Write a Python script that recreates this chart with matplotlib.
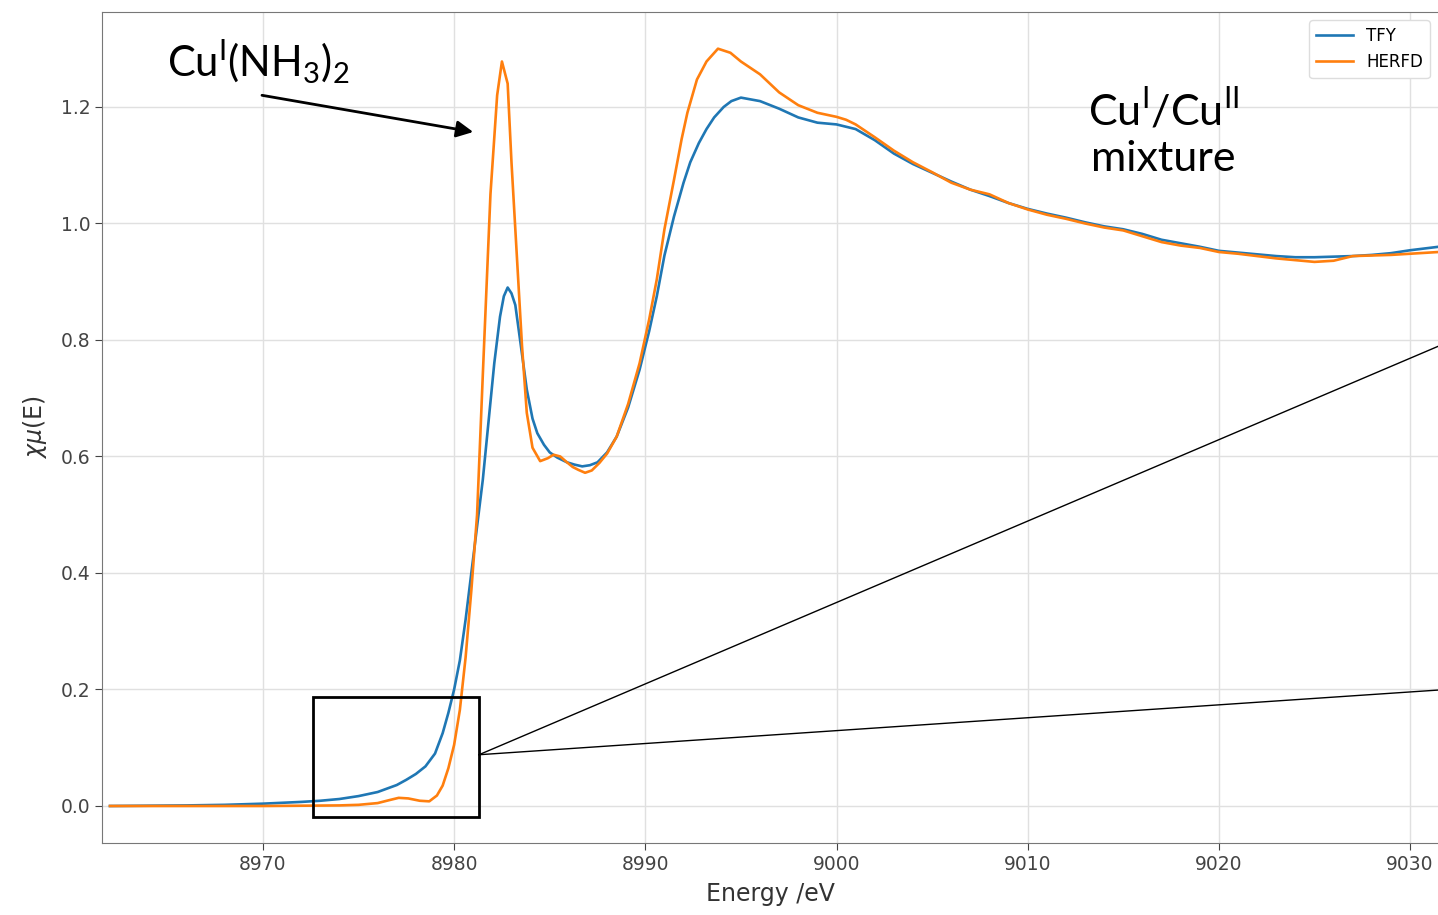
#%%

# XANES-Spektrum Cu K-Kante: TFY vs. HERFD

#%% Bibliotheken

import matplotlib.pyplot as plt
from matplotlib.patches import Rectangle

#%% Daten

energy_tfy = [8962, 8966, 8968, 8970, 8972, 8973, 8974, 8975, 8976, 8977, 8977.5,
              8978, 8978.5, 8979, 8979.4, 8979.7, 8980, 8980.3, 8980.6, 8980.9,
              8981.2, 8981.5, 8981.8, 8982.1, 8982.4, 8982.6, 8982.8, 8983.0,
              8983.2, 8983.45, 8983.8, 8984.1, 8984.35, 8984.7, 8985.0, 8985.4,
              8985.9, 8986.3, 8986.7, 8987.1, 8987.5, 8988.0, 8988.5, 8989.1,
              8989.7, 8990.2, 8990.6, 8991.0, 8991.5, 8992.0, 8992.35, 8992.8,
              8993.2, 8993.6, 8994.1, 8994.5, 8995, 8996, 8997, 8998, 8999, 9000,
              9001, 9002, 9003, 9004, 9005, 9006, 9007, 9008, 9009, 9010, 9011,
              9012, 9013, 9014, 9015, 9016, 9017, 9018, 9019, 9020, 9021, 9022,
              9023, 9024, 9025, 9026, 9027, 9028, 9029, 9030, 9031.5]
mu_tfy = [0.0, 0.001, 0.002, 0.004, 0.007, 0.009, 0.012, 0.017, 0.024, 0.036, 0.045,
          0.055, 0.068, 0.09, 0.125, 0.16, 0.2, 0.25, 0.32, 0.4,
          0.48, 0.56, 0.66, 0.76, 0.84, 0.875, 0.89, 0.88,
          0.86, 0.8, 0.715, 0.665, 0.64, 0.62, 0.607, 0.598,
          0.59, 0.586, 0.583, 0.585, 0.59, 0.607, 0.634, 0.684,
          0.749, 0.815, 0.875, 0.945, 1.012, 1.07, 1.105, 1.138,
          1.162, 1.182, 1.2, 1.21, 1.216, 1.21, 1.197, 1.182, 1.173, 1.17,
          1.162, 1.143, 1.12, 1.102, 1.087, 1.072, 1.058, 1.047, 1.035, 1.025, 1.017,
          1.01, 1.002, 0.995, 0.99, 0.982, 0.972, 0.966, 0.96, 0.953, 0.95, 0.947,
          0.944, 0.942, 0.942, 0.943, 0.944, 0.946, 0.949, 0.954, 0.96]

energy_herfd = [8962, 8970, 8974, 8975, 8976, 8976.6, 8977.1, 8977.6, 8978.2, 8978.7,
                8979.1, 8979.4, 8979.7, 8980.0, 8980.3, 8980.6, 8980.9, 8981.2,
                8981.5, 8981.9, 8982.25, 8982.5, 8982.8, 8983.0, 8983.3, 8983.55,
                8983.8, 8984.1, 8984.5, 8984.9, 8985.2, 8985.55, 8985.9, 8986.2,
                8986.5, 8986.85, 8987.2, 8987.6, 8988.0, 8988.5, 8989.1, 8989.7,
                8990.2, 8990.6, 8991.0, 8991.5, 8991.9, 8992.2, 8992.7, 8993.2,
                8993.8, 8994.45, 8995, 8996, 8997, 8998, 8999, 9000, 9000.5, 9001,
                9002, 9003, 9004, 9005, 9006, 9007, 9008, 9009, 9010, 9011, 9012,
                9013, 9014, 9015, 9016, 9017, 9018, 9019, 9020, 9021, 9022, 9023,
                9024, 9025, 9026, 9027, 9028, 9029, 9030, 9031.5]
mu_herfd = [0.0, 0.0, 0.001, 0.002, 0.005, 0.01, 0.014, 0.013, 0.009, 0.008,
            0.018, 0.035, 0.065, 0.105, 0.165, 0.255, 0.37, 0.5,
            0.74, 1.05, 1.22, 1.278, 1.24, 1.105, 0.933, 0.79,
            0.675, 0.615, 0.592, 0.597, 0.603, 0.6, 0.59, 0.582,
            0.577, 0.572, 0.576, 0.589, 0.605, 0.634, 0.69, 0.76,
            0.835, 0.904, 0.99, 1.075, 1.145, 1.19, 1.247, 1.278,
            1.3, 1.293, 1.278, 1.256, 1.225, 1.203, 1.19, 1.183, 1.178, 1.17,
            1.148, 1.125, 1.105, 1.088, 1.07, 1.058, 1.05, 1.035, 1.024, 1.015, 1.008,
            1.0, 0.993, 0.988, 0.978, 0.968, 0.962, 0.958, 0.951, 0.948, 0.944, 0.94,
            0.937, 0.934, 0.936, 0.944, 0.945, 0.946, 0.948, 0.951]

xticks = [8970, 8980, 8990, 9000, 9010, 9020, 9030]
yticks = [0.0, 0.2, 0.4, 0.6, 0.8, 1.0, 1.2]

#%% Grafik

plt.rcParams['mathtext.fontset'] = 'custom'
plt.rcParams['mathtext.rm'] = 'Lato'

fig = plt.figure(figsize=(14.38, 9.15), dpi=100)
ax = fig.add_axes([0.0709, 0.0787, 0.9291, 0.9082])

ax.plot(energy_tfy, mu_tfy, color='#1f77b4', lw=1.9, label='TFY')
ax.plot(energy_herfd, mu_herfd, color='#ff7f0e', lw=1.9, label='HERFD')

ax.set_xlim(8961.58, 9031.46)
ax.set_ylim(-0.0635, 1.363)
ax.set_xticks(xticks)
ax.set_yticks(yticks)
ax.set_yticklabels([f'{t:.1f}' for t in yticks])
ax.grid(True, color='#e0e0e0', lw=1.0)
ax.set_axisbelow(True)
ax.tick_params(labelsize=13.5, colors='#444444', length=5)
for side in ['left', 'bottom', 'top']:
    ax.spines[side].set_color('#777777')
ax.spines['right'].set_visible(False)

ax.set_xlabel('Energy /eV', fontsize=17, color='#333333', labelpad=6)
ax.set_ylabel(r'$\chi\mu$(E)', fontsize=17, color='#333333', labelpad=8,
              math_fontfamily='dejavusans')

ax.legend(loc='upper right', fontsize=12, borderaxespad=0.5,
          handlelength=2.2, framealpha=1.0, edgecolor='#dddddd')

#%% Annotationen

ax.annotate('', xy=(8981.0, 1.157), xytext=(8969.95, 1.22),
            arrowprops=dict(arrowstyle='-|>', color='black', lw=2,
                            mutation_scale=25, shrinkA=0, shrinkB=0))
ax.text(8965.0, 1.252, r'Cu$^{\mathrm{I}}$(NH$_3$)$_2$', fontsize=30,
        family='Lato', ha='left', va='baseline')
ax.text(9017.1, 1.156, 'Cu$^{\\mathrm{I}}$/Cu$^{\\mathrm{II}}$\nmixture',
        fontsize=31, family='Lato', ha='center', va='center', linespacing=1.25)

ax.add_patch(Rectangle((8972.6, -0.019), 8.7, 0.206, fill=False,
                       ec='black', lw=2, zorder=5))
ax.plot([8981.3, 9031.46], [0.088, 0.789], color='black', lw=1, clip_on=False)
ax.plot([8981.3, 9031.46], [0.088, 0.199], color='black', lw=1, clip_on=False)

plt.savefig('out.png', dpi=100)
